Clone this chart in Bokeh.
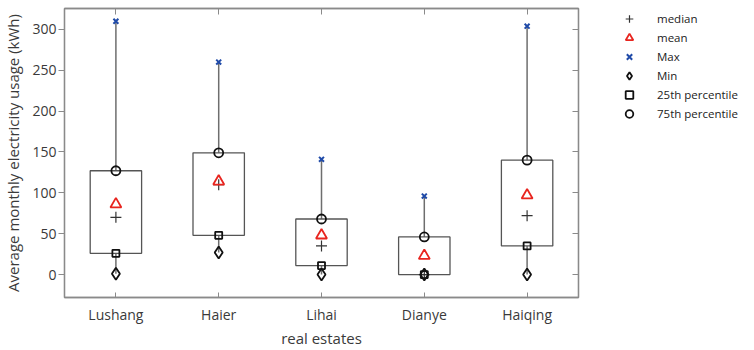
from bokeh.plotting import figure
from bokeh.models import (Range1d, LinearAxis, FixedTicker,
                          Legend, LegendItem, ColumnDataSource)
from bokeh.layouts import row
from bokeh.embed import file_html
from bokeh.resources import INLINE

categories = ["Lushang", "Haier", "Lihai", "Dianye", "Haiqing"]
max_vals = [310, 260, 141, 96, 304]
p75_vals = [127, 149, 68, 46, 140]
mean_vals = [86, 114, 48, 23, 97]
median_vals = [70, 110, 35, 0, 72]
p25_vals = [26, 48, 11, 0, 35]
min_vals = [1, 27, 0, 0, 0]
y_ticks = [0, 50, 100, 150, 200, 250, 300]
legend_labels = ["median", "mean", "Max", "Min", "25th percentile", "75th percentile"]

FONT = "Open Sans"
TXT = "#3a3a3a"
AX = "#8a8a8a"

xpos = list(range(1, len(categories) + 1))
src = ColumnDataSource(dict(x=xpos, mx=max_vals, q75=p75_vals, mean=mean_vals,
                            med=median_vals, q25=p25_vals, mn=min_vals))

p = figure(width=584, height=350,
           x_range=Range1d(0.5, len(categories) + 0.5),
           y_range=Range1d(-28.1, 325.6), output_backend="svg", toolbar_location=None,
           min_border_left=58, min_border_right=6, min_border_top=8, min_border_bottom=0)
p.background_fill_color = "white"
p.border_fill_color = "white"
p.grid.visible = False
p.outline_line_color = AX
p.outline_line_width = 1.3

# bottom axis
xa = p.xaxis[0]
xa.ticker = FixedTicker(ticks=xpos)
xa.major_label_overrides = {x: c for x, c in zip(xpos, categories)}
xa.minor_tick_line_color = None
xa.axis_label = "real estates"
xa.axis_label_text_font = FONT
xa.axis_label_text_font_size = "15px"
xa.axis_label_text_font_style = "normal"
xa.axis_label_text_color = TXT
xa.axis_label_standoff = 1
xa.major_label_text_font = FONT
xa.major_label_text_font_size = "14px"
xa.major_label_text_color = TXT
xa.major_label_standoff = 7
xa.major_tick_in = 5
xa.major_tick_out = 0
xa.major_tick_line_color = AX
xa.axis_line_color = AX
xa.axis_line_width = 1.3

ya = p.yaxis[0]
ya.ticker = FixedTicker(ticks=y_ticks)
ya.axis_label = "Average monthly electricity usage (kWh)"
ya.axis_label_text_font = FONT
ya.axis_label_text_font_size = "15px"
ya.axis_label_text_font_style = "normal"
ya.axis_label_text_color = TXT
ya.axis_label_standoff = 6
ya.major_label_text_font = FONT
ya.major_label_text_font_size = "14px"
ya.major_label_text_color = TXT
ya.major_label_standoff = 2
ya.major_tick_in = 0
ya.major_tick_out = 6
ya.minor_tick_line_color = None
ya.major_tick_line_color = AX
ya.axis_line_color = AX
ya.axis_line_width = 1.3

# mirrored axes (ticks only)
top = LinearAxis(ticker=FixedTicker(ticks=xpos),
                 major_label_overrides={t: "" for t in xpos}, major_label_standoff=0,
                 major_tick_in=6, major_tick_out=0, minor_tick_line_color=None,
                 major_tick_line_color=AX, axis_line_color=AX, axis_line_width=1.3)
p.add_layout(top, "above")
right = LinearAxis(ticker=FixedTicker(ticks=y_ticks),
                   major_label_overrides={t: "" for t in y_ticks},
                   major_label_standoff=0, major_tick_in=6, major_tick_out=0,
                   minor_tick_line_color=None, major_tick_line_color=AX,
                   axis_line_color=AX, axis_line_width=1.3)
p.add_layout(right, "right")

# whiskers
p.segment(x0="x", y0="mx", x1="x", y1="q75", source=src, line_color="#6e6e6e", line_width=1.5)
p.segment(x0="x", y0="q25", x1="x", y1="mn", source=src, line_color="#6e6e6e", line_width=1.5)
# boxes
p.vbar(x="x", top="q75", bottom="q25", width=0.5, source=src, fill_color=None,
       line_color="#555555", line_width=1.3)

styles = [
    ("med", dict(marker="cross", size=11, line_color="#333333", line_width=1.2)),
    ("mean", dict(marker="triangle", size=11, fill_color=None, line_color="#e8251f", line_width=1.8)),
    ("mx", dict(marker="x", size=7, line_color="#1f4aa8", line_width=2.0)),
    ("mn", dict(marker="diamond", size=12, fill_color=None, line_color="#111111", line_width=1.8)),
    ("q25", dict(marker="square", size=7, fill_color=None, line_color="#111111", line_width=1.8)),
    ("q75", dict(marker="circle", size=9, fill_color=None, line_color="#111111", line_width=1.8)),
]
for col, st in styles:
    p.scatter(x="x", y=col, source=src, **st)

# legend panel: a second figure whose view range excludes the data,
# so only its legend (outside the axes box of the main chart) is visible
p2 = figure(width=166, height=350, x_range=Range1d(-3, -2), y_range=Range1d(-3, -2),
            output_backend="svg", toolbar_location=None, min_border=0,
            x_axis_location=None, y_axis_location=None)
p2.outline_line_color = None
p2.grid.visible = False
p2.background_fill_color = "white"
p2.border_fill_color = "white"
items = []
for label, (col, st) in zip(legend_labels, styles):
    r = p2.scatter(x="x", y=col, source=src, **st)
    items.append(LegendItem(label=label, renderers=[r]))
legend = Legend(items=items, location=(35, 174), border_line_color=None,
                background_fill_alpha=0, label_text_font=FONT, label_text_font_size="11.5px",
                label_text_color="#222222", glyph_width=20, glyph_height=19, label_height=19,
                spacing=0, padding=0, margin=0, label_standoff=18)
p2.add_layout(legend, "center")

open("out.html", "w").write(file_html(row(p, p2), INLINE))
